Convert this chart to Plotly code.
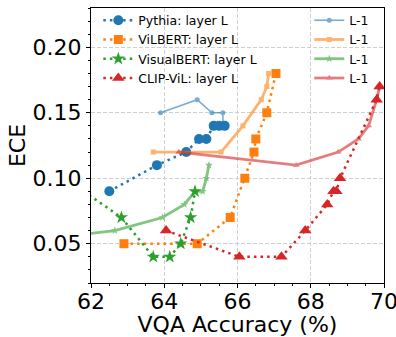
import plotly.graph_objects as go

# ---- data ----
pythia_L_x = [62.5, 63.8, 64.6, 64.95, 65.15, 65.35, 65.5, 65.65]
pythia_L_y = [0.09, 0.11, 0.12, 0.13, 0.13, 0.14, 0.14, 0.14]
pythia_L1_x = [63.9, 64.9, 65.3, 65.6, 65.6]
pythia_L1_y = [0.15, 0.16, 0.15, 0.15, 0.14]

vilbert_L_x = [62.9, 64.9, 65.8, 66.2, 66.45, 66.5, 66.8, 67.05]
vilbert_L_y = [0.05, 0.05, 0.07, 0.10, 0.12, 0.13, 0.15, 0.18]
vilbert_L1_x = [63.7, 65.55, 66.15, 66.65, 66.8, 66.85]
vilbert_L1_y = [0.12, 0.12, 0.14, 0.16, 0.17, 0.18]

visualbert_L_x = [61.8, 62.83, 63.7, 64.15, 64.45, 64.72, 64.84]
visualbert_L_y = [0.09, 0.07, 0.04, 0.04, 0.05, 0.07, 0.09]
visualbert_L1_x = [59.5, 62.65, 63.95, 64.55, 64.84, 65.05, 65.15, 65.22]
visualbert_L1_y = [0.05, 0.06, 0.07, 0.08, 0.09, 0.09, 0.10, 0.11]

clip_L_x = [64.05, 66.05, 67.2, 67.85, 68.45, 68.62, 68.7, 68.8, 69.8, 69.88]
clip_L_y = [0.06, 0.04, 0.04, 0.06, 0.08, 0.09, 0.09, 0.10, 0.16, 0.17]
clip_L1_x = [64.4, 67.6, 68.75, 69.3, 69.58, 69.8, 69.88]
clip_L1_y = [0.12, 0.11, 0.12, 0.13, 0.14, 0.16, 0.17]

names_L = ["Pythia: layer L", "ViLBERT: layer L", "VisualBERT: layer L", "CLIP-ViL: layer L"]
name_L1 = "L-1"
x_ticks = [62, 64, 66, 68, 70]
y_ticks = [0.05, 0.10, 0.15, 0.20]

colors = ["#1f77b4", "#ff7f0e", "#2ca02c", "#d62728"]
symbols = ["circle", "square", "star", "triangle-up"]
msize_L = [10, 9, 10, 11]
msize_L1 = [5, 5, 6, 6]
lw_L1 = [1.6, 2.8, 2.8, 2.8]

L_series = [(pythia_L_x, pythia_L_y), (vilbert_L_x, vilbert_L_y),
            (visualbert_L_x, visualbert_L_y), (clip_L_x, clip_L_y)]
L1_series = [(pythia_L1_x, pythia_L1_y), (vilbert_L1_x, vilbert_L1_y),
             (visualbert_L1_x, visualbert_L1_y), (clip_L1_x, clip_L1_y)]

fig = go.Figure()
for i, (xs, ys) in enumerate(L_series):
    fig.add_trace(go.Scatter(
        x=xs, y=ys, mode="lines+markers", name=names_L[i], legend="legend",
        line=dict(color=colors[i], width=2.5, dash="2.5px,4.1px"),
        marker=dict(symbol=symbols[i], size=msize_L[i], color=colors[i], line=dict(width=0)),
    ))
for i, (xs, ys) in enumerate(L1_series):
    fig.add_trace(go.Scatter(
        x=xs, y=ys, mode="lines+markers", name=name_L1, legend="legend2",
        opacity=0.6,
        line=dict(color=colors[i], width=lw_L1[i]),
        marker=dict(symbol=symbols[i], size=msize_L1[i], color=colors[i], line=dict(width=0)),
    ))

font = "DejaVu Sans"
axis_common = dict(
    showline=True, linecolor="black", linewidth=1, mirror=True,
    ticks="outside", ticklen=4, tickwidth=1, tickcolor="black",
    showgrid=True, gridcolor="#cfcfcf", griddash="4px,2px", gridwidth=1,
    zeroline=False, tickfont=dict(family=font, size=22, color="black"),
    automargin=False, ticklabeloverflow="allow",
)
fig.update_xaxes(range=[62, 70], tickvals=x_ticks, ticktext=[str(v) for v in x_ticks],
                 ticklabelstandoff=-5,
                 minor=dict(dtick=0.5, tick0=62, ticks="outside", ticklen=2, tickcolor="black", showgrid=False),
                 title=dict(text="VQA Accuracy (%)", font=dict(family=font, size=22, color="black")),
                 **axis_common)
fig.update_yaxes(range=[0.02, 0.23], tickvals=y_ticks, ticktext=[f"{v:.2f}" for v in y_ticks],
                 minor=dict(dtick=0.01, tick0=0.0, ticks="outside", ticklen=2, tickcolor="black", showgrid=False),
                 title=dict(text="ECE", standoff=0, font=dict(family=font, size=22, color="black")),
                 **axis_common)

leg_common = dict(bgcolor="rgba(0,0,0,0)", borderwidth=0, yanchor="top", xanchor="left",
                  font=dict(family=font, size=12.5, color="black"), orientation="v")
fig.update_layout(
    width=396, height=337,
    margin=dict(l=91, r=12, t=7, b=54),
    paper_bgcolor="white", plot_bgcolor="white",
    font=dict(family=font, color="black"),
    legend=dict(x=0.025, y=1.005, **leg_common),
    legend2=dict(x=0.745, y=1.005, **leg_common),
    showlegend=True,
)
fig.write_html("out.html", config={"displayModeBar": False},
               post_script="document.body.style.margin='0';")
